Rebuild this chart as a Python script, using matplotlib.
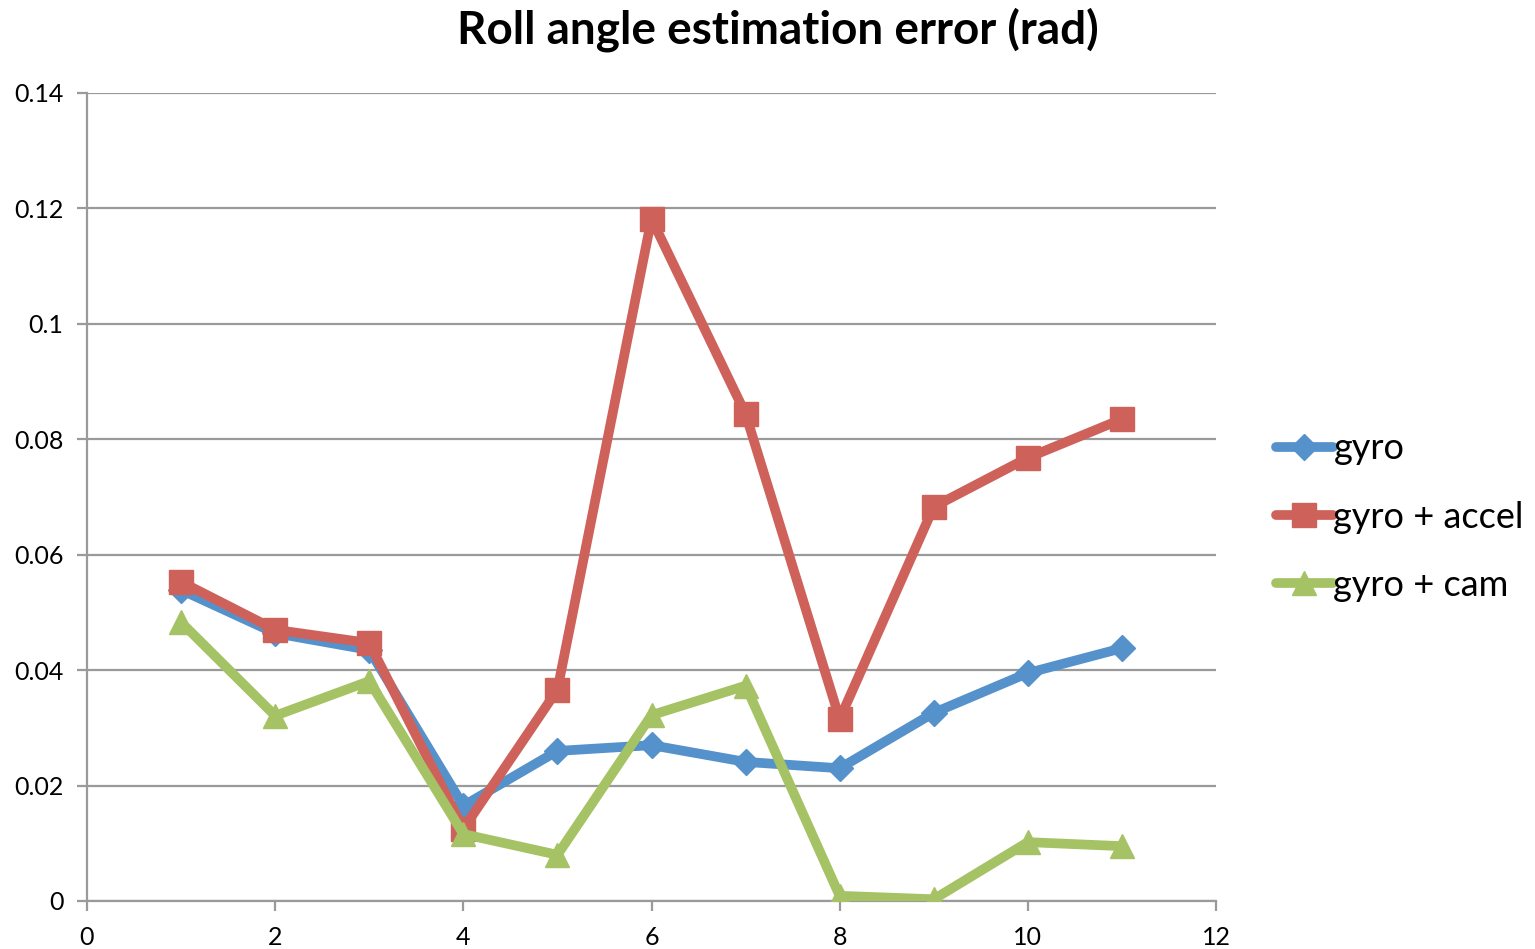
import matplotlib
matplotlib.use("Agg")
import matplotlib.pyplot as plt
from matplotlib.ticker import FixedLocator, FixedFormatter

# Run index for each measurement
runs = [1, 2, 3, 4, 5, 6, 7, 8, 9, 10, 11]

# Roll angle estimation error (rad) per method
gyro = [0.0539, 0.0464, 0.0435, 0.0165, 0.0260, 0.0270, 0.0241, 0.0230, 0.0326, 0.0395, 0.0438]
gyro_accel = [0.0553, 0.0470, 0.0447, 0.0125, 0.0366, 0.1182, 0.0844, 0.0315, 0.0683, 0.0768, 0.0835]
gyro_cam = [0.0483, 0.0321, 0.0381, 0.0116, 0.0080, 0.0322, 0.0373, 0.0009, 0.0003, 0.0102, 0.0095]

series_labels = ["gyro", "gyro + accel", "gyro + cam"]
x_ticks = [0, 2, 4, 6, 8, 10, 12]
y_ticks = [0, 0.02, 0.04, 0.06, 0.08, 0.1, 0.12, 0.14]
y_tick_labels = ["0", "0.02", "0.04", "0.06", "0.08", "0.1", "0.12", "0.14"]

plt.rcParams['font.family'] = ['Lato', 'DejaVu Sans']

fig = plt.figure(figsize=(15.35, 9.49), dpi=100)
ax = fig.add_axes([87 / 1535, 1 - 901 / 949, (1216 - 87) / 1535, (901 - 93) / 949])

colors = ["#5591CB", "#CE625B", "#A5C365"]
markers = ["D", "s", "^"]
msizes = [13, 17, 17]

for vals, col, mk, ms, lab in zip([gyro, gyro_accel, gyro_cam], colors, markers, msizes, series_labels):
    ax.plot(runs, vals, color=col, lw=7, marker=mk, markersize=ms,
            markerfacecolor=col, markeredgecolor=col, solid_capstyle="round",
            solid_joinstyle="round", label=lab, zorder=3)

ax.set_xlim(0, 12)
ax.set_ylim(0, 0.14)
ax.xaxis.set_major_locator(FixedLocator(x_ticks))
ax.yaxis.set_major_locator(FixedLocator(y_ticks))
ax.yaxis.set_major_formatter(FixedFormatter(y_tick_labels))

ax.grid(axis="y", color="#9a9a9a", lw=1.6, zorder=0)
ax.set_axisbelow(True)
for s in ["top", "right"]:
    ax.spines[s].set_visible(False)
for s in ["left", "bottom"]:
    ax.spines[s].set_color("#9a9a9a")
    ax.spines[s].set_linewidth(1.6)
ax.tick_params(axis="both", colors="#9a9a9a", width=1.6, length=7, labelsize=18,
               labelcolor="black", direction="out")
ax.tick_params(axis="x", pad=11)
ax.tick_params(axis="y", pad=10)

fig.text(0.507, 1 - 30 / 949, "Roll angle estimation error (rad)", ha="center", va="center",
         fontsize=33, fontweight="bold")

leg = ax.legend(loc="upper left", bbox_to_anchor=(1.040, 0.598), frameon=False,
                fontsize=26, handlelength=1.6, handletextpad=0.0, labelspacing=0.98,
                borderaxespad=0)

fig.savefig("out.png", dpi=100)
